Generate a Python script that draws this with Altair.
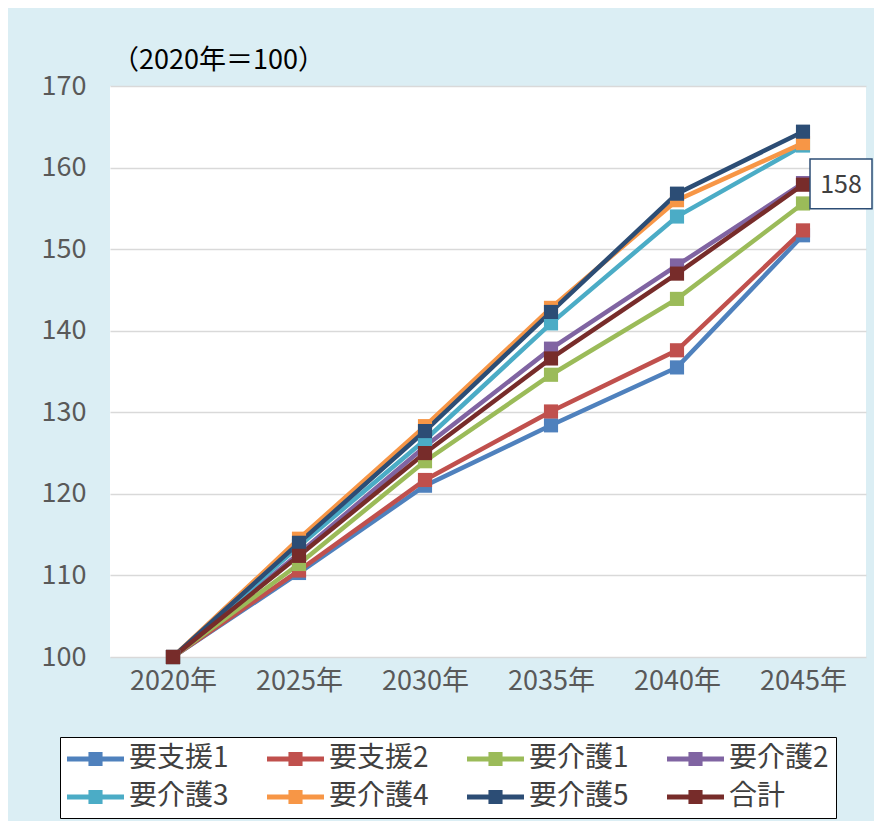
import altair as alt
import pandas as pd

years = ["2020年", "2025年", "2030年", "2035年", "2040年", "2045年"]
series = ["要支援1", "要支援2", "要介護1", "要介護2", "要介護3", "要介護4", "要介護5", "合計"]
colors = ["#4F81BD", "#C0504D", "#9BBB59", "#8064A2", "#4BACC6", "#F79646", "#2C4D75", "#772C2A"]

v_shien1 = [100, 110.3, 121.0, 128.4, 135.5, 151.7]
v_shien2 = [100, 110.6, 121.7, 130.1, 137.6, 152.3]
v_kaigo1 = [100, 111.4, 124.0, 134.6, 143.9, 155.6]
v_kaigo2 = [100, 112.7, 125.8, 137.8, 148.0, 158.1]
v_kaigo3 = [100, 113.6, 126.6, 140.9, 154.0, 162.7]
v_kaigo4 = [100, 114.5, 128.3, 142.8, 156.0, 163.0]
v_kaigo5 = [100, 114.0, 127.7, 142.3, 156.8, 164.4]
v_total = [100, 112.4, 125.0, 136.6, 147.0, 157.9]

label_year = ["2045年"]
label_value = [158]

all_vals = [v_shien1, v_shien2, v_kaigo1, v_kaigo2, v_kaigo3, v_kaigo4, v_kaigo5, v_total]
rows = []
for si, (s, vals) in enumerate(zip(series, all_vals)):
    for yi, (yr, v) in enumerate(zip(years, vals)):
        rows.append({"series": s, "year": yr, "value": v, "sorder": si})
df = pd.DataFrame(rows)
lab = pd.DataFrame({"year": label_year, "value": label_value, "text": [str(v) for v in label_value]})

FONT = "Noto Sans CJK JP"

x = alt.X("year:N", sort=years, scale=alt.Scale(domain=years, padding=0.5),
          axis=alt.Axis(title=None, labelAngle=0, ticks=False, domain=False, grid=False,
                        labelFontSize=27, labelColor="#595959", labelFont=FONT, labelPadding=11))
y = alt.Y("value:Q", scale=alt.Scale(domain=[100, 170], nice=False, zero=False),
          axis=alt.Axis(title=None, values=[100, 110, 120, 130, 140, 150, 160, 170], ticks=False,
                        domain=False, grid=True, gridColor="#D9D9D9", gridWidth=1.5,
                        labelFontSize=27, labelColor="#595959", labelFont=FONT, labelPadding=24))

# symbol: line with a square in the middle, drawn to the right of the symbol centre
legend_path = ("M-1,-0.167 L0.43,-0.167 L0.43,-0.47 L1.37,-0.47 L1.37,-0.167 L2.8,-0.167 L2.8,0.167 "
               "L1.37,0.167 L1.37,0.47 L0.43,0.47 L0.43,0.167 L-1,0.167 Z")

color = alt.Color("series:N", sort=series, scale=alt.Scale(domain=series, range=colors),
                  legend=alt.Legend(title=None, orient="none", legendX=-50, legendY=651,
                                    direction="horizontal", columns=4, symbolType=legend_path,
                                    symbolSize=900, symbolStrokeWidth=0, labelFontSize=28,
                                    labelFont=FONT, labelColor="#404040", labelOffset=32,
                                    columnPadding=38, rowPadding=9, padding=7,
                                    strokeColor="#000000", fillColor="#FFFFFF",
                                    labelLimit=300))

base = alt.Chart(df)
lines = base.mark_line(strokeWidth=4.5).encode(x=x, y=y, color=color, order="sorder:Q")
points = base.mark_point(shape="square", filled=True, size=200, opacity=1).encode(
    x=x, y=y, color=alt.Color("series:N", sort=series, scale=alt.Scale(domain=series, range=colors), legend=None),
    order="sorder:Q")

box_path = "M0.226,-0.806 L2.226,-0.806 L2.226,0.806 L0.226,0.806 Z"
box = alt.Chart(lab).mark_point(shape=box_path, size=3844, filled=True, fill="#FFFFFF",
                                stroke="#2C4D75", strokeWidth=1.5, opacity=1).encode(
    x=alt.X("year:N", sort=years), y=alt.Y("value:Q"))
txt = alt.Chart(lab).mark_text(dx=38, dy=1, fontSize=25, font=FONT, color="#404040").encode(
    x=alt.X("year:N", sort=years), y=alt.Y("value:Q"), text="text:N")

chart = alt.layer(lines, points, box, txt).properties(
    width=756, height=571,
    autosize=alt.AutoSizeParams(type="none"),
    padding={"left": 102, "top": 78, "right": 8, "bottom": 164},
    background="#DBEEF4",
    title=alt.TitleParams("（2020年＝100）", anchor="start", frame="group", offset=3, dx=2, dy=6,
                          fontSize=27, font=FONT, fontWeight="normal", color="#000000"),
).configure_view(fill="#FFFFFF", stroke=None)

chart.save("out.html", embed_options={"renderer": "svg", "actions": False})
